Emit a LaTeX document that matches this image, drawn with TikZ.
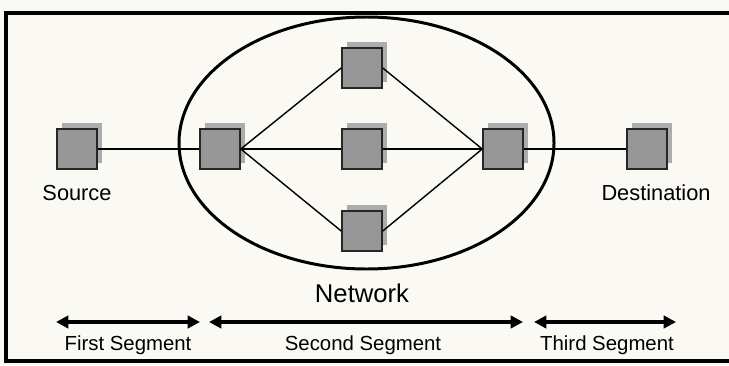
\documentclass[tikz,border=0pt]{standalone}
\usepackage{fontspec}
\setmainfont{Liberation Sans}
\usetikzlibrary{shadows,arrows.meta}

\definecolor{paper}{RGB}{250,249,244}
\definecolor{boxgray}{RGB}{150,150,150}
\definecolor{shadowgray}{RGB}{172,172,172}

\tikzset{
  station/.style={draw=black!85, line width=0.9pt, fill=boxgray,
    minimum width=0.8cm, minimum height=0.8cm, inner sep=0pt,
    general shadow={shadow xshift=2.8pt, shadow yshift=3.4pt, fill=shadowgray}},
  link/.style={line width=0.8pt},
  segarrow/.style={line width=1.8pt,
    {Triangle[length=7pt,width=7pt]}-{Triangle[length=7pt,width=7pt]}},
  caption/.style={font=\fontsize{12.4}{14}\selectfont},
  seglabel/.style={font=\fontsize{11.6}{13}\selectfont}
}

\begin{document}
\begin{tikzpicture}[x=0.02cm, y=-0.02cm]
    % Paper and frame
    \fill[paper] (0,0) rectangle (729,365);
    \useasboundingbox (0,0) rectangle (729,365);
    \draw[line width=2.3pt] (729,13) -- (6,13) -- (6,361) -- (729,361);

    % Network cloud
    \draw[line width=1.7pt] (366.5,143) ellipse [x radius=187.5, y radius=126];

    % Stations and routers
    \node[station] (src) at (77,149) {};
    \node[station] (rtA) at (220,149) {};
    \node[station] (rtTop) at (362,68) {};
    \node[station] (rtMid) at (362,149) {};
    \node[station] (rtBot) at (362,231) {};
    \node[station] (rtB) at (503,149) {};
    \node[station] (dst) at (647,149) {};

    % Links
    \draw[link] (src.east) -- (rtA.west);
    \draw[link] (rtA.east) -- (rtTop.west);
    \draw[link] (rtA.east) -- (rtMid.west);
    \draw[link] (rtA.east) -- (rtBot.west);
    \draw[link] (rtTop.east) -- (rtB.west);
    \draw[link] (rtMid.east) -- (rtB.west);
    \draw[link] (rtBot.east) -- (rtB.west);
    \draw[link] (rtB.east) -- (dst.west);

    % Labels
    \node[caption] (lsrc) at (77,193) {Source};
    \node[caption] (ldst) at (656,193) {Destination};
    \node[font=\fontsize{14.6}{16}\selectfont] (lnet) at (362,293) {Network};

    % Segment arrows
    \coordinate (s1l) at (56,322);
    \coordinate (s1r) at (200,322);
    \coordinate (s2l) at (209,322);
    \coordinate (s2r) at (523,322);
    \coordinate (s3l) at (534,322);
    \coordinate (s3r) at (676,322);
    \draw[segarrow] (s1l) -- (s1r);
    \draw[segarrow] (s2l) -- (s2r);
    \draw[segarrow] (s3l) -- (s3r);

    \node[seglabel] (lfirst) at (128,345) {First Segment};
    \node[seglabel] (lsecond) at (363,345) {Second Segment};
    \node[seglabel] (lthird) at (607,345) {Third Segment};
\end{tikzpicture}
\end{document}
